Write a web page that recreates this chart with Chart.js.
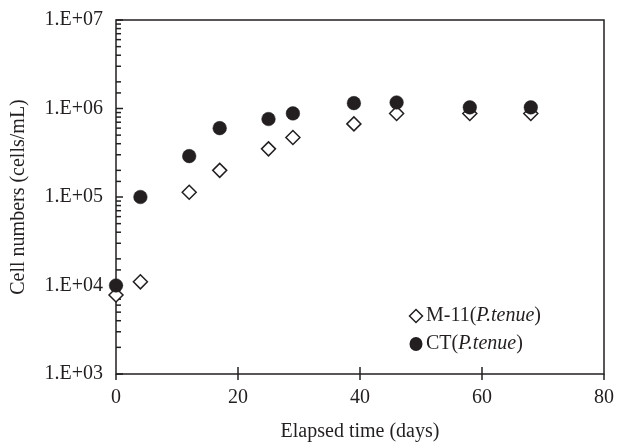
<!DOCTYPE html>
<html>
<head>
<meta charset="utf-8">
<script src="https://cdn.jsdelivr.net/npm/chart.js@4"></script>
<style>
html,body{margin:0;padding:0;background:#fff;}
#c{display:block;}
</style>
</head>
<body>
<canvas id="c" width="617" height="442"></canvas>
<script>
const days = [0, 4, 12, 17, 25, 29, 39, 46, 58, 68];
const m11Values = [7.8e3, 1.1e4, 1.13e5, 2.0e5, 3.5e5, 4.7e5, 6.7e5, 8.8e5, 8.8e5, 8.8e5];
const ctValues = [1.0e4, 1.0e5, 2.9e5, 6.0e5, 7.6e5, 8.8e5, 1.15e6, 1.17e6, 1.03e6, 1.03e6];
const xTickValues = [0, 20, 40, 60, 80];
const yTickLabels = ['1.E+03', '1.E+04', '1.E+05', '1.E+06', '1.E+07'];
const seriesNames = ['M-11', 'CT'];
const speciesName = 'P.tenue';

const INK = '#231f20';
const FONT = '"Liberation Serif", "Times New Roman", serif';

const framePlugin = {
  id: 'frame',
  beforeDatasetsDraw(chart) {
    const ctx = chart.ctx;
    const a = chart.chartArea;
    const xs = chart.scales.x, ys = chart.scales.y;
    ctx.save();
    ctx.strokeStyle = INK;
    ctx.lineWidth = 1.5;
    ctx.strokeRect(a.left, a.top, a.right - a.left, a.bottom - a.top);
    ys.ticks.forEach(t => {
      const y = ys.getPixelForValue(t.value);
      const e = Math.log10(t.value);
      const major = Math.abs(e - Math.round(e)) < 1e-9;
      ctx.beginPath();
      ctx.moveTo(a.left, y);
      ctx.lineTo(a.left + (major ? 7 : 5), y);
      ctx.stroke();
    });
    xTickValues.forEach(v => {
      const x = xs.getPixelForValue(v);
      const edge = (v === xs.min || v === xs.max);
      ctx.beginPath();
      ctx.moveTo(x, edge ? a.bottom : a.bottom - 7);
      ctx.lineTo(x, a.bottom + 6);
      ctx.stroke();
    });
    ctx.restore();
  }
};

const legendPlugin = {
  id: 'customLegend',
  afterDraw(chart) {
    const ctx = chart.ctx;
    const a = chart.chartArea;
    const mx = a.left + 300;
    const tx = mx + 10;
    const rows = [a.top + 296, a.top + 324];
    ctx.save();
    ctx.strokeStyle = INK;
    ctx.lineWidth = 1.5;
    let y = rows[0];
    ctx.beginPath();
    ctx.moveTo(mx, y - 6.5); ctx.lineTo(mx + 6.5, y); ctx.lineTo(mx, y + 6.5); ctx.lineTo(mx - 6.5, y); ctx.closePath();
    ctx.fillStyle = '#fff'; ctx.fill(); ctx.stroke();
    y = rows[1];
    ctx.beginPath();
    ctx.ellipse(mx, y, 6.5, 7, 0, 0, Math.PI * 2);
    ctx.fillStyle = INK; ctx.fill();
    ctx.textBaseline = 'middle';
    ctx.textAlign = 'left';
    seriesNames.forEach((name, i) => {
      let x = tx;
      const yy = rows[i];
      const parts = [[name + '(', 'normal'], [speciesName, 'italic'], [')', 'normal']];
      parts.forEach(([s, st]) => {
        ctx.font = st + ' 20px ' + FONT;
        ctx.fillText(s, x, yy);
        x += ctx.measureText(s).width;
      });
    });
    ctx.restore();
  }
};

const ptsM = days.map((d, i) => ({x: d, y: m11Values[i]}));
const ptsC = days.map((d, i) => ({x: d, y: ctValues[i]}));

new Chart(document.getElementById('c'), {
  type: 'scatter',
  data: {
    datasets: [
      {
        label: seriesNames[0], data: ptsM, order: 1, clip: false,
        pointStyle: 'rectRot', pointRadius: 7, pointBackgroundColor: '#fff',
        pointBorderColor: INK, pointBorderWidth: 1.5, showLine: false
      },
      {
        label: seriesNames[1], data: ptsC, order: 0, clip: false,
        pointStyle: 'circle', pointRadius: 6.8, pointBackgroundColor: INK,
        pointBorderColor: INK, pointBorderWidth: 0.5, showLine: false
      }
    ]
  },
  options: {
    responsive: false,
    animation: false,
    events: [],
    layout: {padding: {top: 20, right: 13, left: 0, bottom: 0}},
    plugins: {legend: {display: false}, tooltip: {enabled: false}},
    scales: {
      x: {
        type: 'linear', min: 0, max: 80,
        afterBuildTicks(s) { s.ticks = xTickValues.map(v => ({value: v})); },
        ticks: {color: INK, font: {family: FONT, size: 20}, padding: 12, maxRotation: 0},
        grid: {display: false, drawTicks: false},
        border: {display: false},
        title: {display: true, text: 'Elapsed time (days)', color: INK,
          font: {family: FONT, size: 20, lineHeight: 1}, padding: 0},
        afterFit(s) { s.height = 68; s.paddingLeft = 0; s.paddingRight = 0; }
      },
      y: {
        type: 'logarithmic', min: 1e3, max: 1e7,
        ticks: {
          color: INK, font: {family: FONT, size: 20}, padding: 13, autoSkip: false,
          callback(v) {
            const e = Math.log10(v);
            if (Math.abs(e - Math.round(e)) < 1e-9) {
              return yTickLabels[Math.round(e) - 3];
            }
            return '';
          }
        },
        grid: {display: false, drawTicks: false},
        border: {display: false},
        title: {display: true, text: 'Cell numbers (cells/mL)', color: INK,
          font: {family: FONT, size: 20, lineHeight: 1}, padding: {top: 9, bottom: 0}},
        afterFit(s) { s.width = 116; s.paddingTop = 0; s.paddingBottom = 0; }
      }
    }
  },
  plugins: [framePlugin, legendPlugin]
});
</script>
</body>
</html>
